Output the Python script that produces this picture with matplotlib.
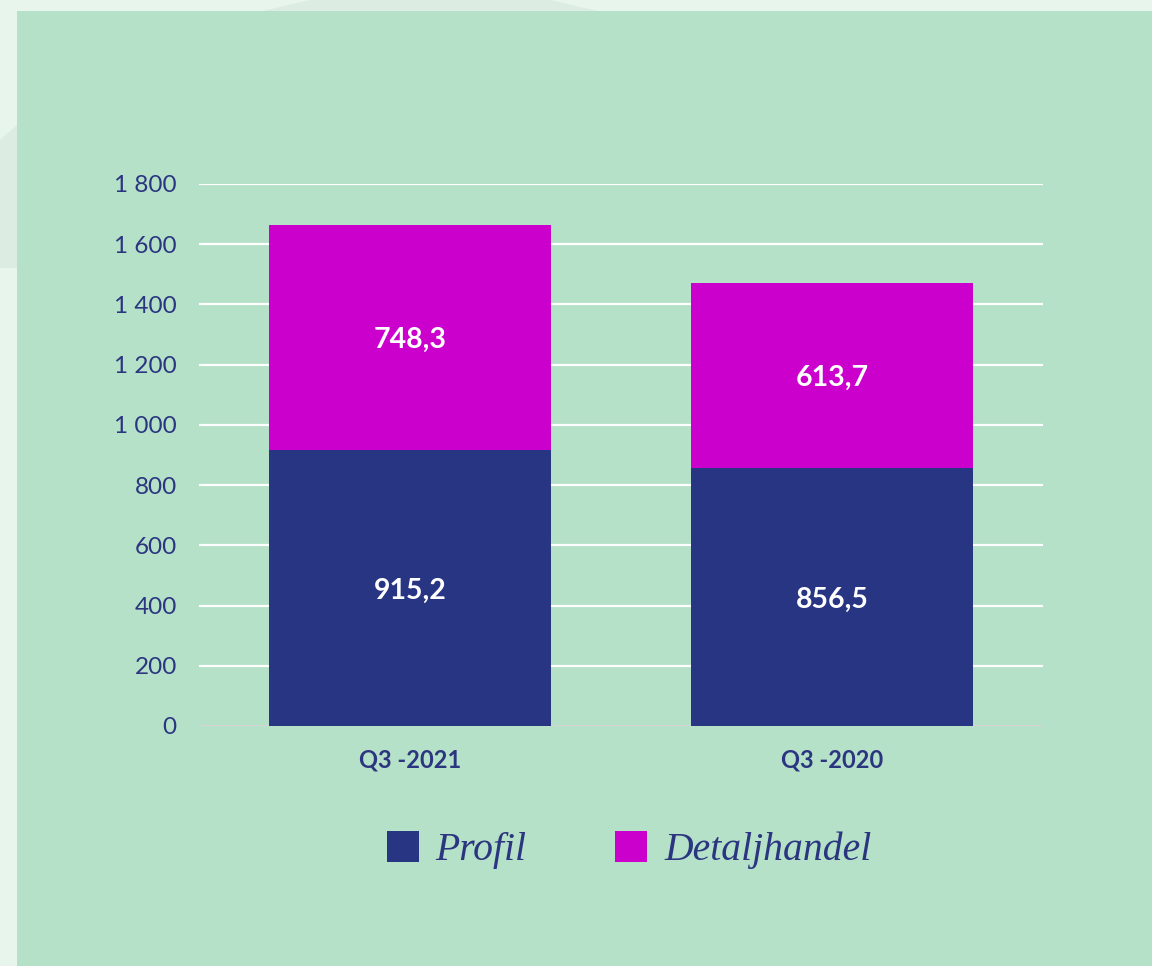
import numpy as np
import matplotlib
matplotlib.use("Agg")
import matplotlib.pyplot as plt
from matplotlib.patches import Rectangle, Polygon, Patch

# data
categories = ["Q3 -2021", "Q3 -2020"]
profil = [915.2, 856.5]
detaljhandel = [748.3, 613.7]
series_names = ["Profil", "Detaljhandel"]
yticks = [0, 200, 400, 600, 800, 1000, 1200, 1400, 1600, 1800]

navy = "#283583"
magenta = "#cc00cc"
panel = "#b4e1c7"
outer = "#e8f5ed"
text_col = "#2b3580"

W, H = 1152, 966
fig = plt.figure(figsize=(W / 100, H / 100), dpi=100)
fig.patch.set_facecolor(outer)

# faint decorative shapes behind the panel
fig.patches.append(Polygon([(0, 1 - 140 / H), (17 / W, 1 - 125 / H), (17 / W, 1 - 268 / H), (0, 1 - 268 / H)],
                           closed=True, transform=fig.transFigure, facecolor="#dcece2", edgecolor="none", zorder=-3))
fig.patches.append(Polygon([(263 / W, 1 - 11 / H), (310 / W, 1.0), (550 / W, 1.0), (597 / W, 1 - 11 / H)],
                           closed=True, transform=fig.transFigure, facecolor="#dcece2", edgecolor="none", zorder=-3))
# green panel
fig.patches.append(Rectangle((17 / W, 0), 1 - 17 / W, 1 - 11 / H, transform=fig.transFigure,
                             facecolor=panel, edgecolor="none", zorder=-2))

ax = fig.add_axes([199 / W, (H - 726) / H, (1043 - 199) / W, (726 - 184) / H])
ax.set_facecolor("none")

x = np.arange(len(categories))
w = 0.666
b1 = ax.bar(x, profil, width=w, color=navy, zorder=3)
b2 = ax.bar(x, detaljhandel, width=w, bottom=profil, color=magenta, zorder=3)

def fmt(v):
    return f"{v:.1f}".replace(".", ",")

for i in range(len(categories)):
    ax.text(x[i], profil[i] / 2, fmt(profil[i]), ha="center", va="center_baseline",
            color="white", fontsize=20.5, fontweight="bold", family="Lato", zorder=4)
    ax.text(x[i], profil[i] + detaljhandel[i] / 2, fmt(detaljhandel[i]), ha="center", va="center_baseline",
            color="white", fontsize=20.5, fontweight="bold", family="Lato", zorder=4)

ax.set_xlim(-0.5, 1.5)
ax.set_ylim(0, 1800)
ax.set_yticks(yticks)
ax.set_yticklabels([f"{t:,}".replace(",", " ") for t in yticks], family="Lato", fontsize=17.5,
                   color=text_col)
ax.set_xticks(x)
ax.set_xticklabels(categories, family="Lato", fontsize=17, fontweight="bold", color=text_col)
ax.tick_params(axis="y", length=0, pad=16)
ax.tick_params(axis="x", length=0, pad=16)
for s in ax.spines.values():
    s.set_visible(False)
for t in yticks[1:]:
    ax.axhline(t, color="white", linewidth=1.6, zorder=2)
ax.axhline(0, color="#d4d4d4", linewidth=1.6, zorder=2)

handles = [Patch(facecolor=navy, label=series_names[0]), Patch(facecolor=magenta, label=series_names[1])]
leg = fig.legend(handles=handles, loc="center", bbox_to_anchor=(629 / W, 1 - 850 / H), ncol=2, frameon=False,
                 prop={"family": "Liberation Serif", "style": "italic", "size": 28.5},
                 handlelength=0.81, handleheight=0.81, handletextpad=0.42, columnspacing=2.25)
for t in leg.get_texts():
    t.set_color(text_col)

fig.savefig("out.png", dpi=100, facecolor=fig.get_facecolor())
